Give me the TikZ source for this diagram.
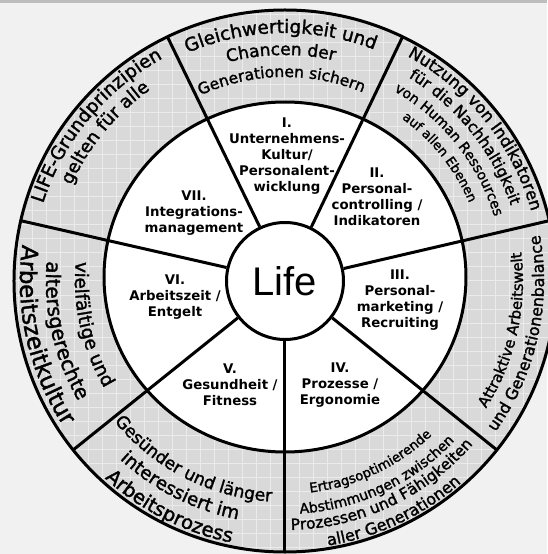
\documentclass[tikz,border=0pt]{standalone}
\usepackage{fontspec}
\usetikzlibrary{decorations.text}
\newfontfamily\ringfont[FakeBold=1.6]{DejaVu Sans}
\newfontfamily\sectorfont{DejaVu Sans}
\newfontfamily\lifefont{Liberation Sans}
\newcommand{\ringsize}[1]{\ringfont\fontsize{#1}{#1}\selectfont}
\definecolor{bggray}{HTML}{F1F1F1}
\definecolor{topbar}{HTML}{BDBDBD}
\definecolor{ringgray}{HTML}{D9D9D9}
\definecolor{gridgray}{HTML}{EBEBEB}
\tikzset{
  rim/.style={line width=3pt},
  spoke/.style={line width=3pt},
  sector/.style={align=center, inner sep=0pt, font=\sectorfont\bfseries\fontsize{13.3}{16}\selectfont},
  ringtext/.style={decorate, decoration={text along path, text align=center, text={#1}}},
}
\begin{document}
\begin{tikzpicture}[x=1pt, y=1pt]
\useasboundingbox (-285,-273) rectangle (262,281);

% Background
\fill[bggray] (-285,-273) rectangle (262,281);
\fill[topbar] (-285,278) rectangle (262,281);

% Drawing outer ring
\fill[ringgray] (0,0) circle (271pt);
\begin{scope}
  \clip (0,0) circle (271pt);
  \draw[gridgray, line width=1pt, step=14pt] (-280,-280) grid (280,280);
\end{scope}

% Drawing inner disc
\filldraw[fill=white, rim] (0,4) ellipse [x radius=181pt, y radius=175pt];

% Marking Life
\node[circle, draw, fill=white, line width=3pt, minimum size=117pt, inner sep=0pt,
      font=\lifefont\fontsize{40}{40}\selectfont] (life) at (0,0) {Life};

% Spoke end points on the rim
\coordinate (o1) at (-90:271pt);
\coordinate (o2) at (-38.57:271pt);
\coordinate (o3) at (12.86:271pt);
\coordinate (o4) at (64.29:271pt);
\coordinate (o5) at (115.71:271pt);
\coordinate (o6) at (167.14:271pt);
\coordinate (o7) at (218.57:271pt);

% Drawing spokes
\draw[spoke] (life.-90) -- (o1);
\draw[spoke] (life.-38.57) -- (o2);
\draw[spoke] (life.12.86) -- (o3);
\draw[spoke] (life.64.29) -- (o4);
\draw[spoke] (life.115.71) -- (o5);
\draw[spoke] (life.167.14) -- (o6);
\draw[spoke] (life.218.57) -- (o7);

% Drawing rim
\draw[rim] (0,0) circle (271pt);

% Marking sectors I to VII
\node[sector] (s1) at (2,125) {I.\\Unternehmens-\\Kultur/\\Personalent-\\wicklung};
\node[sector] (s2) at (92,84) {II.\\Personal-\\controlling /\\Indikatoren};
\node[sector] (s3) at (115,-19) {III.\\Personal-\\marketing /\\Recruiting};
\node[sector] (s4) at (55,-104) {IV.\\Prozesse /\\Ergonomie};
\node[sector] (s5) at (-55,-104) {V.\\Gesundheit /\\Fitness};
\node[sector] (s6) at (-110,-16) {VI.\\Arbeitszeit /\\Entgelt};
\node[sector] (s7) at (-91,68) {VII.\\Integrations-\\management};

% Marking ring text LIFE-Grundprinzipien
\path[ringtext={|\ringsize{18.5}|LIFE-Grundprinzipien}] (220.5:254pt) arc[start angle=220.5, end angle=60.5, radius=254pt];
\path[ringtext={|\ringsize{18}|gelten für alle}] (220.5:234pt) arc[start angle=220.5, end angle=60.5, radius=234pt];

% Marking ring text Gleichwertigkeit
\path[ringtext={|\ringsize{18.5}|Gleichwertigkeit und}] (171:248pt) arc[start angle=171, end angle=11, radius=248pt];
\path[ringtext={|\ringsize{17}|Chancen der}] (171:226pt) arc[start angle=171, end angle=11, radius=226pt];
\path[ringtext={|\ringsize{15.5}|Generationen sichern}] (171:204pt) arc[start angle=171, end angle=11, radius=204pt];

% Marking ring text Nutzung von Indikatoren
\path[ringtext={|\ringsize{16.5}|Nutzung von Indikatoren}] (118.6:256pt) arc[start angle=118.6, end angle=-41.4, radius=256pt];
\path[ringtext={|\ringsize{15.5}|für die Nachhaltigkeit}] (118.6:238pt) arc[start angle=118.6, end angle=-41.4, radius=238pt];
\path[ringtext={|\ringsize{14}|von Human Ressources}] (118.6:219pt) arc[start angle=118.6, end angle=-41.4, radius=219pt];
\path[ringtext={|\ringsize{13}|auf allen Ebenen}] (118.6:200pt) arc[start angle=118.6, end angle=-41.4, radius=200pt];

% Marking ring text Attraktive Arbeitswelt
\path[ringtext={|\ringsize{15}|Attraktive Arbeitswelt}] (-92.7:238pt) arc[start angle=-92.7, end angle=67.3, radius=238pt];
\path[ringtext={|\ringsize{16}|und Generationenbalance}] (-92.7:259pt) arc[start angle=-92.7, end angle=67.3, radius=259pt];

% Marking ring text Ertragsoptimierende
\path[ringtext={|\ringsize{13.3}|Ertragsoptimierende}] (-144.8:213pt) arc[start angle=-144.8, end angle=15.2, radius=213pt];
\path[ringtext={|\ringsize{14}|Abstimmungen zwischen}] (-144.8:233pt) arc[start angle=-144.8, end angle=15.2, radius=233pt];
\path[ringtext={|\ringsize{15.4}|Prozessen und Fähigkeiten}] (-144.8:249pt) arc[start angle=-144.8, end angle=15.2, radius=249pt];
\path[ringtext={|\ringsize{16}|aller Generationen}] (-144.8:268pt) arc[start angle=-144.8, end angle=15.2, radius=268pt];

% Marking ring text Gesuender und laenger
\path[ringtext={|\ringsize{17.2}|Gesünder und länger}] (-197:221pt) arc[start angle=-197, end angle=-37, radius=221pt];
\path[ringtext={|\ringsize{18.5}|interessiert im}] (-197:243pt) arc[start angle=-197, end angle=-37, radius=243pt];
\path[ringtext={|\ringsize{19.5}|Arbeitsprozess}] (-197:267pt) arc[start angle=-197, end angle=-37, radius=267pt];

% Marking ring text vielfaeltige und
\path[ringtext={|\ringsize{18.5}|vielfältige und}] (112.7:210pt) arc[start angle=112.7, end angle=272.7, radius=210pt];
\path[ringtext={|\ringsize{20}|altersgerechte}] (112.7:239pt) arc[start angle=112.7, end angle=272.7, radius=239pt];
\path[ringtext={|\ringsize{23}|Arbeitszeitkultur}] (112.7:265pt) arc[start angle=112.7, end angle=272.7, radius=265pt];
\end{tikzpicture}
\end{document}
